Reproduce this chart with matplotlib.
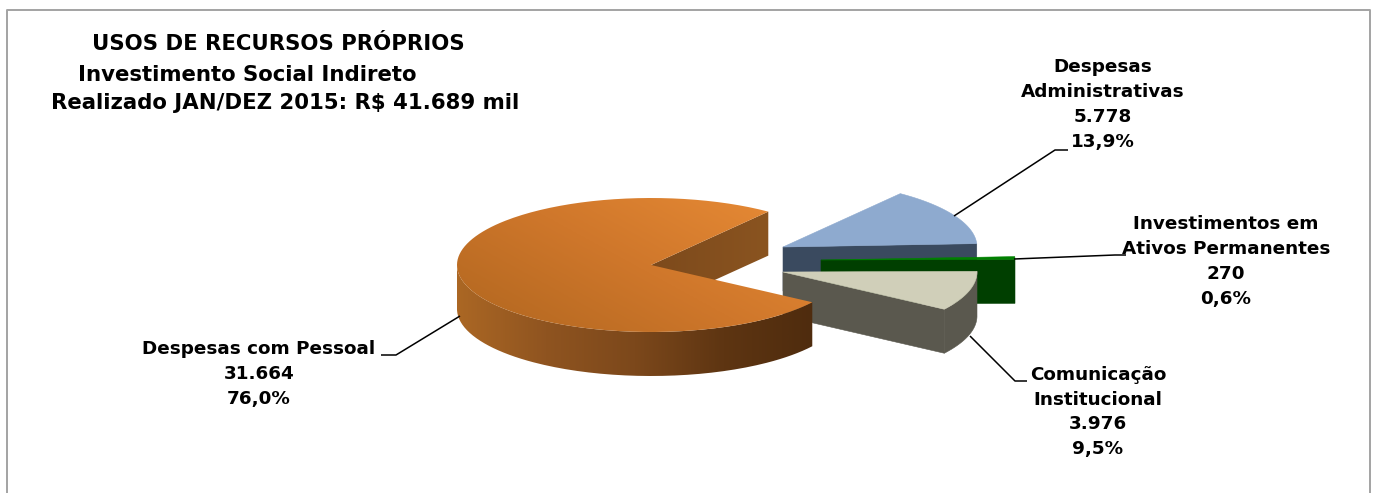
import numpy as np
import matplotlib
matplotlib.use("Agg")
import matplotlib.pyplot as plt
from matplotlib.colors import LinearSegmentedColormap
from matplotlib.patches import PathPatch, Polygon
from matplotlib.path import Path

# Chart data
title_lines = ["USOS DE RECURSOS PRÓPRIOS", "Investimento Social Indireto",
               "Realizado JAN/DEZ 2015: R$ 41.689 mil"]
names = ["Despesas\nAdministrativas", "Investimentos em\nAtivos Permanentes",
         "Comunicação\nInstitucional", "Despesas com Pessoal"]
values = [5778, 270, 3976, 31664]
value_labels = ["5.778", "270", "3.976", "31.664"]
pct_labels = ["13,9%", "0,6%", "9,5%", "76,0%"]

# Layout, in pixels of the 1378x493 canvas
W, H = 1378, 493
RX, RY, DEPTH = 194, 67, 44
START_ANGLE = 52.8
centers = [(783, 247), (821, 260), (783, 272), (651, 265)]
label_pos = [(1103, 104.5), (1226, 261.5), (1098, 412), (259, 374)]
leaders = [[(954, 216), (1055, 150), (1068, 150)],
           [(1014, 259), (1115, 255), (1126, 255)],
           [(970, 336), (1015, 381), (1027, 381)],
           [(460, 316), (396, 355), (381, 355)]]
FONT = "DejaVu Sans"

fig = plt.figure(figsize=(W / 100, H / 100), dpi=100, facecolor="white")
ax = fig.add_axes([0, 0, 1, 1])


def arc(c, t0, t1, dy=0.0, n=120):
    t = np.radians(np.linspace(t0, t1, n))
    return np.column_stack([c[0] + RX * np.cos(t), c[1] - RY * np.sin(t) + dy])


def flat(pts, color, z):
    ax.add_patch(Polygon(pts, closed=True, fc=color, ec=color, lw=0.4, zorder=z))


def shaded(pts, colors, direction, z):
    """Fill a polygon with a linear gradient running along direction (dx, dy)."""
    pts = np.asarray(pts)
    x0, y0 = pts.min(axis=0)
    x1, y1 = pts.max(axis=0)
    xx, yy = np.meshgrid(np.linspace(x0, x1, 300), np.linspace(y0, y1, 150))
    g = xx * direction[0] + yy * direction[1]
    g = (g - g.min()) / (g.max() - g.min())
    cmap = LinearSegmentedColormap.from_list("shade", colors)
    im = ax.imshow(g, extent=(x0, x1, y1, y0), cmap=cmap, aspect="auto",
                   interpolation="bilinear", zorder=z)
    clip = PathPatch(Path(np.vstack([pts, pts[:1]])), transform=ax.transData, fc="none", ec="none")
    ax.add_patch(clip)
    im.set_clip_path(clip)


# Wedge angles run clockwise from the start angle, in proportion to the values
sweeps = np.array(values) / np.sum(values) * 360
ends = START_ANGLE - np.cumsum(sweeps)
starts = ends + sweeps

# Despesas Administrativas
c = centers[0]
a = arc(c, starts[0], ends[0])
flat(np.vstack([[c], [a[-1]], [a[-1] + (0, DEPTH)], [(c[0], c[1] + DEPTH)]]), "#3a4a5f", 2)
flat(np.vstack([[c], a]), "#8eaacf", 3)

# Investimentos em Ativos Permanentes
c = centers[1]
a = arc(c, starts[1], ends[1])
flat(np.vstack([[c], [a[-1]], [a[-1] + (0, DEPTH)], [(c[0], c[1] + DEPTH)]]), "#003f00", 4)
flat(np.vstack([[c], a]), "#008000", 5)

# Comunicação Institucional
c = centers[2]
a = arc(c, starts[2], ends[2])
b = arc(c, ends[2], starts[2], dy=DEPTH)
flat(np.vstack([a, b]), "#5a584e", 6)
flat(np.vstack([[c], [a[-1]], [a[-1] + (0, DEPTH)], [(c[0], c[1] + DEPTH)]]), "#5a584e", 6)
flat(np.vstack([[c], a]), "#d0cfb9", 7)

# Despesas com Pessoal: the wedge runs counter-clockwise from the start angle
c = centers[3]
t_open, t_close = START_ANGLE, starts[3] + 360
inner = arc(c, t_open, t_open, n=1)[0]
shaded([c, inner, inner + (0, DEPTH), (c[0], c[1] + DEPTH)],
       ["#7d4a1c", "#8a5420"], (1, 0), 8)
wall_t = arc(c, 180, t_close)
wall_b = arc(c, t_close, 180, dy=DEPTH)
shaded(np.vstack([wall_t, wall_b]),
       ["#ab6724", "#8f5420", "#7c481b", "#5e3512", "#4f2c0e"], (1, 0), 9)
shaded(np.vstack([[c], arc(c, t_open, t_close, n=240)]),
       ["#e98c36", "#cf772b", "#b0661f"], (-0.55, 1), 10)

# Leader lines and labels
for pts, (x, y), name, val, pct in zip(leaders, label_pos, names, value_labels, pct_labels):
    p = np.array(pts)
    ax.plot(p[:, 0], p[:, 1], color="black", lw=1.1, zorder=11, solid_capstyle="butt")
    ax.text(x, y, f"{name}\n{val}\n{pct}", ha="center", va="center", family=FONT,
            weight="bold", fontsize=13.2, linespacing=1.49, color="black", zorder=12)

for (x, y), line in zip([(92, 44), (78, 75), (51, 103)], title_lines):
    ax.text(x, y, line, ha="left", va="center", family=FONT, weight="bold",
            fontsize=15.3, color="black", zorder=12)

# Open-bottomed frame around the chart area
ax.plot([7, 7, 1370, 1370], [H + 2, 10, 10, H + 2], color="#a3a3a3", lw=1.4, zorder=1)

ax.set_xlim(0, W)
ax.set_ylim(H, 0)
ax.axis("off")
fig.savefig("out.png", dpi=100, facecolor="white")
